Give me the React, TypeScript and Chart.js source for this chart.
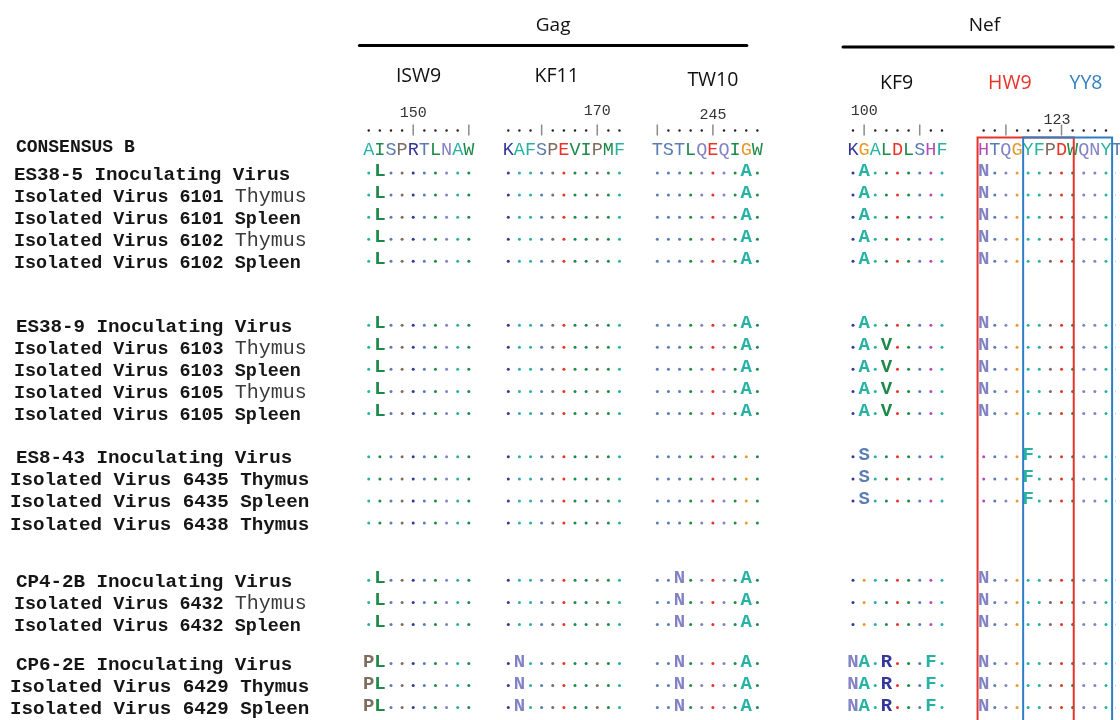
import React, { useEffect, useRef } from "react";
import { Chart, registerables } from "chart.js";

Chart.register(...registerables);

// ---------------- data ----------------
const PROTEINS = ["Gag", "Nef"];
const EPITOPES = ["ISW9", "KF11", "TW10", "KF9", "HW9", "YY8"];
const EPITOPE_COLORS = ["#111111", "#111111", "#111111", "#111111", "#e8322a", "#2f7ec4"];
const CONSENSUS_LABEL = "CONSENSUS B";
const CONSENSUS = ["AISPRTLNAW", "KAFSPEVIPMF", "TSTLQEQIGW", "KGALDLSHF", "HTQGYFPDWQNYT"];
const RULERS = ["....|....|", "...|....|..", "|....|....", ".|....|..", "..|....|....."];
const RULER_NUMBERS = ["150", "170", "245", "100", "123"];

const ES38_5_LABELS = [
  "ES38-5 Inoculating Virus",
  "Isolated Virus 6101 Thymus",
  "Isolated Virus 6101 Spleen",
  "Isolated Virus 6102 Thymus",
  "Isolated Virus 6102 Spleen",
];
const ES38_5_SEQS = [
  [".L........", "...........", "........A.", ".A.......", "N............"],
  [".L........", "...........", "........A.", ".A.......", "N............"],
  [".L........", "...........", "........A.", ".A.......", "N............"],
  [".L........", "...........", "........A.", ".A.......", "N............"],
  [".L........", "...........", "........A.", ".A.......", "N............"],
];

const ES38_9_LABELS = [
  "ES38-9 Inoculating Virus",
  "Isolated Virus 6103 Thymus",
  "Isolated Virus 6103 Spleen",
  "Isolated Virus 6105 Thymus",
  "Isolated Virus 6105 Spleen",
];
const ES38_9_SEQS = [
  [".L........", "...........", "........A.", ".A.......", "N............"],
  [".L........", "...........", "........A.", ".A.V.....", "N............"],
  [".L........", "...........", "........A.", ".A.V.....", "N............"],
  [".L........", "...........", "........A.", ".A.V.....", "N............"],
  [".L........", "...........", "........A.", ".A.V.....", "N............"],
];

const ES8_43_LABELS = [
  "ES8-43 Inoculating Virus",
  "Isolated Virus 6435 Thymus",
  "Isolated Virus 6435 Spleen",
  "Isolated Virus 6438 Thymus",
];
const ES8_43_SEQS = [
  ["..........", "...........", "..........", ".S.......", "....F........"],
  ["..........", "...........", "..........", ".S.......", "....F........"],
  ["..........", "...........", "..........", ".S.......", "....F........"],
  ["..........", "...........", "..........", "", ""],
];

const CP4_2B_LABELS = [
  "CP4-2B Inoculating Virus",
  "Isolated Virus 6432 Thymus",
  "Isolated Virus 6432 Spleen",
];
const CP4_2B_SEQS = [
  [".L........", "...........", "..N.....A.", ".........", "N............"],
  [".L........", "...........", "..N.....A.", ".........", "N............"],
  [".L........", "...........", "..N.....A.", ".........", "N............"],
];

const CP6_2E_LABELS = [
  "CP6-2E Inoculating Virus",
  "Isolated Virus 6429 Thymus",
  "Isolated Virus 6429 Spleen",
];
const CP6_2E_SEQS = [
  ["PL........", ".N.........", "..N.....A.", "NA.R...F.", "N............"],
  ["PL........", ".N.........", "..N.....A.", "NA.R...F.", "N............"],
  ["PL........", ".N.........", "..N.....A.", "NA.R...F.", "N............"],
];

// ---------------- layout / style ----------------
const W = 1120;
const H = 720;
const PX_PER_COL = 11.2;
const PX_PER_LINE = 22.3;
const LINE0_PX = 150;
const BLOCK_START_COLS = [32.8, 45.35, 58.75, 76.35, 88.1];
const RULER_NUMBER_COLS = [4, 8, 5, 1, 6.6];
const RULER_NUMBER_LINES = [-1.79, -1.88, -1.7, -1.88, -1.48];
const RULER_LINE = -0.99;
const GROUP_GAPS = [0.94, 2.9, 1.97, 2.6, 1.77];
const PROTEIN_TITLE_COLS = [49.38, 88.17];
const PROTEIN_TITLE_LINE = -5.74;
const PROTEIN_RULE_SPANS = [[31.96, 66.8], [75.45, 99.75]];
const PROTEIN_RULE_LINES = [-4.84, -4.78];
const EPITOPE_COLS = [37.28, 49.7, 63.75, 80.27, 90.45, 97.3];
const EPITOPE_LINES = [-3.45, -3.45, -3.27, -3.14, -3.14, -3.14];
const BOX_TOP_LINE = -0.67;
const BOXES = [
  { block: 4, from: 0, to: 8, color: "#e8322a", left: -0.55, right: 0.1 },
  { block: 4, from: 4, to: 11, color: "#2f7ec4", left: -0.45, right: 0.55 },
];
const GROUP_MIXED_STYLE = [true, true, false, true, false];
const INOC_LABEL_COLS = [10 / PX_PER_COL, 12 / PX_PER_COL, 12 / PX_PER_COL, 12 / PX_PER_COL, 12 / PX_PER_COL];
const ISO_LABEL_COLS = [10 / PX_PER_COL, 10 / PX_PER_COL, 6 / PX_PER_COL, 10 / PX_PER_COL, 6 / PX_PER_COL];
const CONSENSUS_LABEL_COL = 12 / PX_PER_COL;

const MONO = '"Liberation Mono", "DejaVu Sans Mono", monospace';
const SANS = '"Open Sans", "Noto Sans", sans-serif';

const RES_COLORS: Record<string, string> = {
  A: "#26b3a3", F: "#26b3a3", Y: "#26b3a3",
  I: "#1e8a4a", L: "#1e8a4a", V: "#1e8a4a", M: "#1e8a4a", W: "#1e8a4a",
  G: "#ea9a2a",
  P: "#7d6d5e",
  S: "#5a7db6", T: "#5a7db6",
  N: "#8282c4", Q: "#8282c4",
  H: "#b34db3",
  K: "#34379a", R: "#34379a",
  D: "#ec3226", E: "#ec3226",
};

const GROUPS = [
  { labels: ES38_5_LABELS, seqs: ES38_5_SEQS },
  { labels: ES38_9_LABELS, seqs: ES38_9_SEQS },
  { labels: ES8_43_LABELS, seqs: ES8_43_SEQS },
  { labels: CP4_2B_LABELS, seqs: CP4_2B_SEQS },
  { labels: CP6_2E_LABELS, seqs: CP6_2E_SEQS },
];

type Row = { label: string; seqs: string[]; line: number; group: number; inoc: boolean };

function buildRows(): Row[] {
  const rows: Row[] = [];
  let line = 0;
  GROUPS.forEach((g, gi) => {
    line += GROUP_GAPS[gi];
    g.labels.forEach((label, ri) => {
      rows.push({ label, seqs: g.seqs[ri], line, group: gi, inoc: ri === 0 });
      line += 1;
    });
    line -= 1;
  });
  return rows;
}

const ROWS = buildRows();

function buildDots() {
  const pts: { x: number; y: number }[] = [];
  const colors: string[] = [];
  ROWS.forEach((row) => {
    row.seqs.forEach((s, bi) => {
      for (let i = 0; i < s.length; i++) {
        if (s[i] === ".") {
          pts.push({ x: BLOCK_START_COLS[bi] + i, y: row.line });
          colors.push(RES_COLORS[CONSENSUS[bi][i]] || "#888");
        }
      }
    });
  });
  return { pts, colors };
}

function buildRulerDots() {
  const pts: { x: number; y: number }[] = [];
  RULERS.forEach((r, bi) => {
    for (let i = 0; i < r.length; i++) {
      if (r[i] === ".") pts.push({ x: BLOCK_START_COLS[bi] + i, y: RULER_LINE });
    }
  });
  return pts;
}

const alignPlugin = {
  id: "alignText",
  afterDatasetsDraw(chart: any) {
    const { ctx } = chart;
    const xs = chart.scales.x;
    const ys = chart.scales.y;
    const X = (c: number) => xs.getPixelForValue(c);
    const Y = (l: number) => ys.getPixelForValue(l);
    ctx.save();

    // protein titles and rules
    ctx.fillStyle = "#111";
    ctx.font = `19px ${SANS}`;
    ctx.textAlign = "center";
    ctx.textBaseline = "middle";
    PROTEINS.forEach((p, i) => {
      ctx.fillText(p, X(PROTEIN_TITLE_COLS[i]), Y(PROTEIN_TITLE_LINE));
      ctx.strokeStyle = "#000";
      ctx.lineWidth = 3;
      ctx.lineCap = "round";
      ctx.beginPath();
      ctx.moveTo(X(PROTEIN_RULE_SPANS[i][0]), Y(PROTEIN_RULE_LINES[i]));
      ctx.lineTo(X(PROTEIN_RULE_SPANS[i][1]), Y(PROTEIN_RULE_LINES[i]));
      ctx.stroke();
    });

    // epitope names
    ctx.font = `19.5px ${SANS}`;
    EPITOPES.forEach((e, i) => {
      ctx.fillStyle = EPITOPE_COLORS[i];
      ctx.fillText(e, X(EPITOPE_COLS[i]), Y(EPITOPE_LINES[i]));
    });

    // ruler numbers and ticks
    ctx.font = `15px ${MONO}`;
    ctx.fillStyle = "#333";
    RULER_NUMBERS.forEach((n, bi) => {
      ctx.fillText(n, X(BLOCK_START_COLS[bi] + RULER_NUMBER_COLS[bi]), Y(RULER_NUMBER_LINES[bi]));
    });
    ctx.strokeStyle = "#8a8a8a";
    ctx.lineWidth = 1.5;
    ctx.lineCap = "butt";
    RULERS.forEach((r, bi) => {
      for (let i = 0; i < r.length; i++) {
        if (r[i] === "|") {
          const px = X(BLOCK_START_COLS[bi] + i);
          const py = Y(RULER_LINE);
          ctx.beginPath();
          ctx.moveTo(px, py - 6);
          ctx.lineTo(px, py + 5);
          ctx.stroke();
        }
      }
    });

    // consensus
    ctx.textAlign = "center";
    ctx.textBaseline = "alphabetic";
    ctx.font = `18.5px ${MONO}`;
    CONSENSUS.forEach((s, bi) => {
      for (let i = 0; i < s.length; i++) {
        ctx.fillStyle = RES_COLORS[s[i]] || "#888";
        ctx.fillText(s[i], X(BLOCK_START_COLS[bi] + i), Y(0) + 2.5);
      }
    });

    // variant letters
    ctx.font = `bold 19px ${MONO}`;
    ROWS.forEach((row) => {
      row.seqs.forEach((s, bi) => {
        for (let i = 0; i < s.length; i++) {
          if (s[i] !== ".") {
            ctx.fillStyle = RES_COLORS[s[i]] || "#888";
            ctx.fillText(s[i], X(BLOCK_START_COLS[bi] + i), Y(row.line) + 3);
          }
        }
      });
    });

    // row labels
    ctx.textAlign = "left";
    ctx.fillStyle = "#151515";
    ctx.font = `bold 18px ${MONO}`;
    ctx.fillText(CONSENSUS_LABEL, X(CONSENSUS_LABEL_COL), Y(0));
    ROWS.forEach((row) => {
      const base = Y(row.line) + 6.5;
      if (row.inoc) {
        ctx.font = `bold 19.2px ${MONO}`;
        ctx.fillStyle = "#151515";
        ctx.fillText(row.label, X(INOC_LABEL_COLS[row.group]), base);
        return;
      }
      const x0 = X(ISO_LABEL_COLS[row.group]);
      if (GROUP_MIXED_STYLE[row.group]) {
        const idx = row.label.lastIndexOf(" ") + 1;
        const head = row.label.slice(0, idx);
        const tissue = row.label.slice(idx);
        ctx.font = `bold 18.4px ${MONO}`;
        ctx.fillStyle = "#151515";
        ctx.fillText(head, x0, base);
        const w = ctx.measureText(head).width;
        if (tissue === "Thymus") {
          ctx.font = `20px ${MONO}`;
          ctx.fillStyle = "#3a3a3a";
        }
        ctx.fillText(tissue, x0 + w, base);
      } else {
        ctx.font = `bold 19.2px ${MONO}`;
        ctx.fillStyle = "#151515";
        ctx.fillText(row.label, x0, base);
      }
    });

    // epitope boxes
    ctx.lineWidth = 2;
    BOXES.forEach((b) => {
      const l = X(BLOCK_START_COLS[b.block] + b.from + b.left);
      const r = X(BLOCK_START_COLS[b.block] + b.to + b.right);
      const t = Y(BOX_TOP_LINE);
      ctx.strokeStyle = b.color;
      ctx.beginPath();
      ctx.moveTo(l, H + 5);
      ctx.lineTo(l, t);
      ctx.lineTo(r, t);
      ctx.lineTo(r, H + 5);
      ctx.stroke();
    });

    ctx.restore();
  },
};

export default function App() {
  const ref = useRef<HTMLCanvasElement | null>(null);
  useEffect(() => {
    if (!ref.current) return;
    const dots = buildDots();
    const yMin = -LINE0_PX / PX_PER_LINE;
    const yMax = yMin + H / PX_PER_LINE;
    const chart = new Chart(ref.current, {
      type: "scatter",
      data: {
        datasets: [
          {
            label: "residues",
            data: dots.pts,
            pointRadius: 1.5,
            pointBorderWidth: 0,
            pointBackgroundColor: dots.colors,
            pointHoverRadius: 1.5,
          },
          {
            label: "ruler",
            data: buildRulerDots(),
            pointRadius: 1.2,
            pointBorderWidth: 0,
            pointBackgroundColor: "#222",
          },
        ],
      },
      options: {
        animation: false,
        responsive: false,
        maintainAspectRatio: false,
        devicePixelRatio: 1,
        layout: { padding: 0 },
        events: [],
        plugins: { legend: { display: false }, tooltip: { enabled: false }, title: { display: false } },
        scales: {
          x: { type: "linear", min: 0, max: W / PX_PER_COL, display: false },
          y: { type: "linear", reverse: true, min: yMin, max: yMax, display: false },
        },
      },
      plugins: [alignPlugin],
    });
    return () => chart.destroy();
  }, []);
  return (
    <div style={{ position: "absolute", left: 0, top: 0, width: W, height: H, background: "#fff" }}>
      <canvas ref={ref} width={W} height={H} style={{ display: "block" }} />
    </div>
  );
}
